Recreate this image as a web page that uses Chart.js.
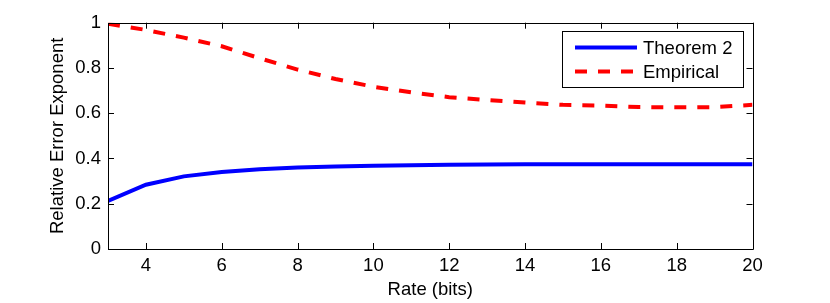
<!DOCTYPE html>
<html>
<head>
<meta charset="utf-8">
<script src="https://cdn.jsdelivr.net/npm/chart.js@4/dist/chart.umd.min.js"></script>
<style>
  html, body { margin: 0; padding: 0; background: #fff; }
  #wrap { width: 830px; height: 303px; position: relative; }
</style>
</head>
<body>
<div id="wrap"><canvas id="c" width="830" height="303"></canvas></div>
<script>
const rates = [3, 4, 5, 6, 7, 8, 9, 10, 11, 12, 13, 14, 15, 16, 17, 18, 19, 20];
const theorem2 = [0.213, 0.284, 0.321, 0.340, 0.352, 0.360, 0.365, 0.368, 0.370, 0.372, 0.373, 0.374, 0.374, 0.375, 0.375, 0.375, 0.375, 0.375];
const empirical = [0.995, 0.968, 0.934, 0.896, 0.843, 0.793, 0.751, 0.717, 0.692, 0.671, 0.658, 0.647, 0.637, 0.634, 0.627, 0.626, 0.627, 0.637];
const xTicks = [4, 6, 8, 10, 12, 14, 16, 18, 20];
const yTicks = [0, 0.2, 0.4, 0.6, 0.8, 1];
const seriesLabels = ['Theorem 2', 'Empirical'];

const FONT = "'Liberation Sans', Arial, Helvetica, sans-serif";
const FS = 18.5;

const innerTicks = {
  id: 'innerTicks',
  afterDraw(chart) {
    const ctx = chart.ctx;
    const a = chart.chartArea;
    const xs = chart.scales.x, ys = chart.scales.y;
    const L = 6;
    ctx.save();
    ctx.strokeStyle = '#000';
    ctx.lineWidth = 1;
    ctx.beginPath();
    ctx.rect(Math.round(a.left) + 0.5, Math.round(a.top) + 0.5, Math.round(a.right) - Math.round(a.left), Math.round(a.bottom) - Math.round(a.top));
    xTicks.forEach(v => {
      const px = Math.round(xs.getPixelForValue(v)) + 0.5;
      ctx.moveTo(px, a.bottom); ctx.lineTo(px, a.bottom - L);
      ctx.moveTo(px, a.top); ctx.lineTo(px, a.top + L);
    });
    yTicks.forEach(v => {
      const py = Math.round(ys.getPixelForValue(v)) + 0.5;
      ctx.moveTo(a.left, py); ctx.lineTo(a.left + L, py);
      ctx.moveTo(a.right, py); ctx.lineTo(a.right - L, py);
    });
    ctx.stroke();

    // legend
    const bx = 562.5, by = 31.5, bw = 181, bh = 56;
    ctx.fillStyle = '#fff';
    ctx.fillRect(bx, by, bw, bh);
    ctx.strokeRect(bx, by, bw, bh);
    const rows = [47.5, 71.5];
    chart.data.datasets.forEach((ds, i) => {
      ctx.save();
      ctx.strokeStyle = ds.borderColor;
      ctx.lineWidth = ds.borderWidth;
      ctx.setLineDash(ds.borderDash || []);
      ctx.beginPath();
      ctx.moveTo(575, rows[i]);
      ctx.lineTo(637, rows[i]);
      ctx.stroke();
      ctx.restore();
      ctx.fillStyle = '#000';
      ctx.font = FS + 'px ' + FONT;
      ctx.textBaseline = 'alphabetic';
      ctx.textAlign = 'left';
      ctx.fillText(ds.label, 643, rows[i] + 6.2);
    });
    ctx.restore();
  }
};

new Chart(document.getElementById('c'), {
  type: 'line',
  data: {
    datasets: [
      {
        label: seriesLabels[0],
        data: rates.map((r, i) => ({ x: r, y: theorem2[i] })),
        borderColor: '#0000ff',
        borderWidth: 4,
        pointRadius: 0,
        tension: 0,
        fill: false
      },
      {
        label: seriesLabels[1],
        data: rates.map((r, i) => ({ x: r, y: empirical[i] })),
        borderColor: '#ff0000',
        borderWidth: 4,
        borderDash: [12, 11],
        pointRadius: 0,
        tension: 0,
        fill: false
      }
    ]
  },
  options: {
    responsive: false,
    animation: false,
    devicePixelRatio: 1,
    layout: { padding: { top: 22.7, right: 77.5, bottom: 0, left: 0 } },
    plugins: { legend: { display: false }, tooltip: { enabled: false } },
    scales: {
      x: {
        type: 'linear',
        min: 3, max: 20,
        afterBuildTicks: s => { s.ticks = xTicks.map(v => ({ value: v })); },
        afterFit: s => { s.height = 54; },
        grid: { display: false, drawTicks: false },
        border: { display: false },
        ticks: { padding: 6, color: '#000', font: { family: FONT, size: FS }, maxRotation: 0, autoSkip: false },
        title: { display: true, text: 'Rate (bits)', color: '#000', font: { family: FONT, size: FS }, padding: { top: 0, bottom: 1.6 } }
      },
      y: {
        min: 0, max: 1,
        afterBuildTicks: s => { s.ticks = yTicks.map(v => ({ value: v })); },
        afterFit: s => { s.width = 108; },
        grid: { display: false, drawTicks: false },
        border: { display: false },
        ticks: { padding: 7, color: '#000', font: { family: FONT, size: FS }, callback: v => String(Math.round(v * 10) / 10) },
        title: { display: true, text: 'Relative Error Exponent', color: '#000', font: { family: FONT, size: FS }, padding: { top: 46.5, bottom: 0 } }
      }
    }
  },
  plugins: [innerTicks]
});
</script>
</body>
</html>
